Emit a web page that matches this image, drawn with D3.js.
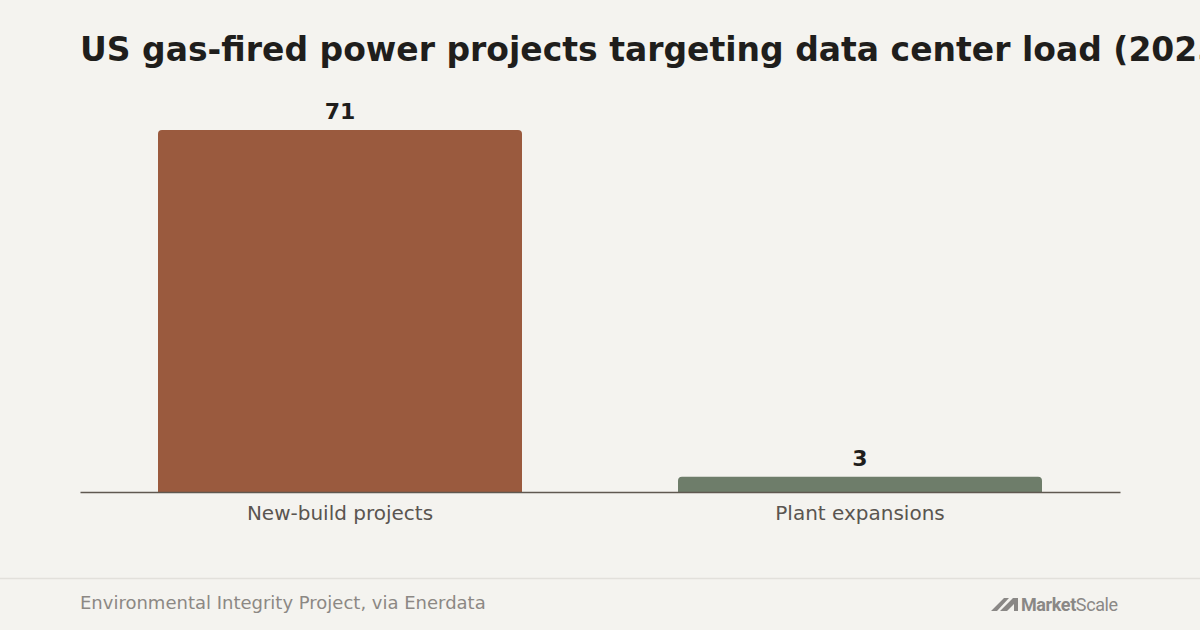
<!DOCTYPE html>
<html><head><meta charset="utf-8">
<script src="https://cdn.jsdelivr.net/npm/d3@7/dist/d3.min.js"></script>
<style>
html,body{margin:0;padding:0;background:#f4f3ef;overflow:hidden;}
svg{display:block;font-family:"DejaVu Sans",sans-serif;}
</style></head><body>
<script>
const categories = ["New-build projects", "Plant expansions"];
const values = [71, 3];
const colors = ["#9a5a3e", "#6e7d6a"];
const title = "US gas-fired power projects targeting data center load (2025)";
const source = "Environmental Integrity Project, via Enerdata";

const W = 1200, H = 630;
const svg = d3.select("body").append("svg").attr("width", W).attr("height", H);
svg.append("rect").attr("width", W).attr("height", H).attr("fill", "#f4f3ef");

svg.append("text").attr("x", 80).attr("y", 61).attr("font-size", 33).attr("font-weight", "bold")
  .attr("fill", "#1f1e1c").text(title);

const x = d3.scaleBand().domain(categories).range([80, 1120]).paddingInner(0.3).paddingOuter(0.15);
const y = d3.scaleLinear().domain([0, 71]).range([492, 130]);

const data = categories.map((c, i) => ({c, v: values[i], col: colors[i]}));

function barPath(x0, y0, w, h, r) {
  r = Math.min(r, h, w / 2);
  return `M${x0},${y0 + h}V${y0 + r}Q${x0},${y0} ${x0 + r},${y0}H${x0 + w - r}Q${x0 + w},${y0} ${x0 + w},${y0 + r}V${y0 + h}Z`;
}

svg.selectAll("path.bar").data(data).join("path").attr("class", "bar")
  .attr("d", d => barPath(x(d.c), y(d.v), x.bandwidth(), y(0) - y(d.v), 4))
  .attr("fill", d => d.col);

svg.selectAll("text.val").data(data).join("text").attr("class", "val")
  .attr("x", d => x(d.c) + x.bandwidth() / 2).attr("y", d => y(d.v) - 11)
  .attr("text-anchor", "middle").attr("font-size", 22).attr("font-weight", "bold")
  .attr("fill", "#1f1e1c").text(d => d.v);

const axis = d3.axisBottom(x).tickSize(0).tickPadding(14);
const g = svg.append("g").attr("transform", `translate(0,${y(0)})`).call(axis);
g.select(".domain").attr("stroke", "#5f5850").attr("stroke-width", 1.5);
g.selectAll(".tick text").attr("font-size", 20).attr("fill", "#5a5550")
  .attr("font-family", "DejaVu Sans, sans-serif");

svg.append("line").attr("x1", 0).attr("x2", W).attr("y1", 578.5).attr("y2", 578.5)
  .attr("stroke", "#e2e0db").attr("stroke-width", 1.5);

svg.append("text").attr("x", 80).attr("y", 609).attr("font-size", 18).attr("fill", "#8c8884").text(source);

// logo
const lg = svg.append("g").attr("fill", "#8a8886");
lg.append("path").attr("d", "M991,611 L1004,598 L1009,598 L997,611 Z M1000,611 L1013,598 L1018,598 L1018,611 L1014,611 L1014,604 L1007,611 Z");
const lt = lg.append("text").attr("x", 1021).attr("y", 611).attr("font-size", 18).attr("font-family", "Roboto, sans-serif").attr("letter-spacing", -0.4);
lt.append("tspan").attr("font-weight", "bold").text("Market");
lt.append("tspan").attr("font-weight", "normal").text("Scale");
</script>
</body></html>
